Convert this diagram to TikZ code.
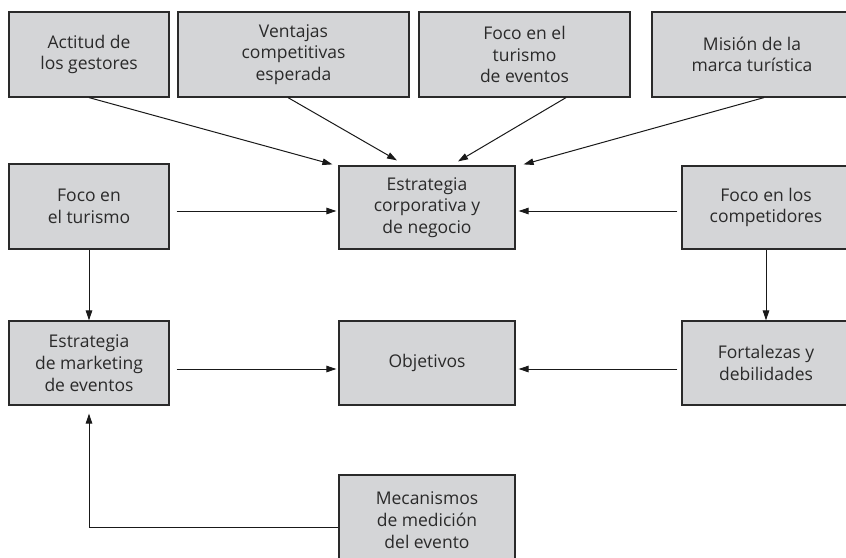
\documentclass[tikz,border=0pt]{standalone}
\usepackage{fontspec}
\setmainfont{Open Sans}
\usetikzlibrary{arrows.meta}
\definecolor{boxfill}{HTML}{D4D5D7}
\definecolor{boxline}{HTML}{2A2A2A}
\definecolor{txt}{HTML}{2A2A2A}
\begin{document}
\begin{tikzpicture}[x=1pt,y=-1pt,
  box/.style={draw=boxline, fill=boxfill, line width=1.2pt, inner sep=0pt, align=center, text=txt, font=\fontsize{17.5}{21.7}\selectfont},
  arr/.style={-{Triangle[length=10pt,width=6.5pt]}, line width=1pt, black!90}]
\useasboundingbox (0,0) rectangle (846,557);
\clip (0,0) rectangle (846,557);
% top row
\node[box, minimum width=160pt, minimum height=85pt] (act) at (89,54.5) {Actitud de\\los gestores};
\node[box, minimum width=231pt, minimum height=85pt] (ven) at (293.5,54.5) {Ventajas\\competitivas\\esperada};
\node[box, minimum width=211pt, minimum height=85pt] (foc) at (524.5,54.5) {Foco en el\\turismo\\de eventos};
\node[box, minimum width=200pt, minimum height=85pt] (mis) at (752,54.5) {Misión de la\\marca turística};
% second row
\node[box, minimum width=160pt, minimum height=85pt] (tur) at (89,206.5) {Foco en\\el turismo};
\node[box, minimum width=176pt, minimum height=83pt] (est) at (427,207.5) {Estrategia\\corporativa y\\de negocio};
\node[box, minimum width=168pt, minimum height=83pt] (com) at (766,207.5) {Foco en los\\competidores};
% third row
\node[box, minimum width=160pt, minimum height=84pt] (mkt) at (89,363) {Estrategia\\de marketing\\de eventos};
\node[box, minimum width=176pt, minimum height=84pt] (obj) at (427,363) {Objetivos};
\node[box, minimum width=168pt, minimum height=84pt] (fort) at (766,363) {Fortalezas y\\debilidades};
% bottom
\node[box, minimum width=176pt, minimum height=90pt] (mec) at (427,520) {Mecanismos\\de medición\\del evento};
% connectors
\draw[arr] (act.south) -- ([xshift=-6pt,yshift=1pt]est.north west);
\draw[arr] ([xshift=-5.5pt]ven.south) -- ([xshift=-30pt,yshift=5pt]est.north);
\draw[arr] ([xshift=41.5pt]foc.south) -- ([xshift=31pt,yshift=4pt]est.north);
\draw[arr] ([xshift=12pt]mis.south) -- ([xshift=8pt,yshift=1pt]est.north east);
\draw[arr] ([xshift=7pt,yshift=-4.5pt]tur.east) -- ([xshift=-2pt,yshift=-3.5pt]est.west);
\draw[arr] ([xshift=-4pt,yshift=-3.5pt]com.west) -- ([xshift=3pt,yshift=-3.5pt]est.east);
\draw[arr] (tur.south) -- (mkt.north);
\draw[arr] (com.south) -- (fort.north);
\draw[arr] ([xshift=7pt,yshift=-6pt]mkt.east) -- ([xshift=-2pt,yshift=-6pt]obj.west);
\draw[arr] ([xshift=-4pt,yshift=-6pt]fort.west) -- ([xshift=3pt,yshift=-6pt]obj.east);
\draw[arr] ([yshift=-7pt]mec.west) -| ([yshift=-8pt]mkt.south);
\end{tikzpicture}
\end{document}
